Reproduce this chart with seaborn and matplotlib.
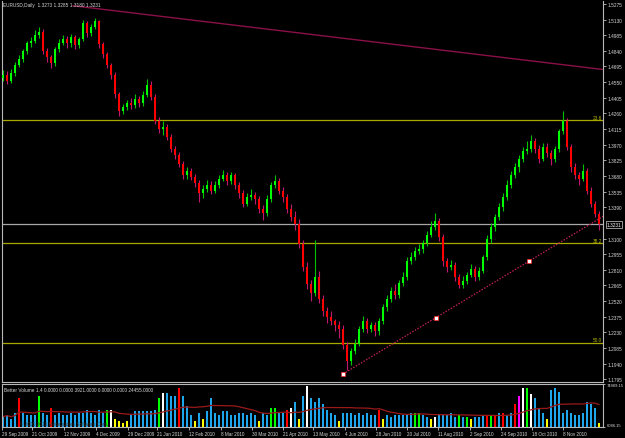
import numpy as np
import pandas as pd
import matplotlib
matplotlib.use("Agg")
import matplotlib.pyplot as plt
import matplotlib.transforms as mtransforms
import seaborn as sns

# ---------------- data (EURUSD daily) ----------------
first_open = 1.4590
closes = [
    1.4616, 1.4561, 1.4635, 1.4709, 1.4765, 1.4839, 1.4913, 1.4932, 1.4987, 1.5015,
    1.4839, 1.4783, 1.4728, 1.4858, 1.4913, 1.4950, 1.4913, 1.4969, 1.4895, 1.4950,
    1.5099, 1.5006, 1.5061, 1.5117, 1.4904, 1.4811, 1.4709, 1.4616, 1.4440, 1.4283,
    1.4320, 1.4357, 1.4338, 1.4394, 1.4357, 1.4431, 1.4524, 1.4413, 1.4190, 1.4116,
    1.4134, 1.4042, 1.3931, 1.3875, 1.3791, 1.3689, 1.3727, 1.3671, 1.3615, 1.3523,
    1.3560, 1.3597, 1.3541, 1.3597, 1.3652, 1.3689, 1.3634, 1.3689, 1.3597, 1.3523,
    1.3421, 1.3486, 1.3504, 1.3467, 1.3374, 1.3337, 1.3467, 1.3597, 1.3634, 1.3541,
    1.3486, 1.3374, 1.3300, 1.3235, 1.3050, 1.2837, 1.2679, 1.2596, 1.2744, 1.2540,
    1.2429, 1.2373, 1.2336, 1.2299, 1.2262, 1.2114, 1.1965, 1.2058, 1.2123, 1.2262,
    1.2336, 1.2262, 1.2299, 1.2243, 1.2336, 1.2466, 1.2540, 1.2614, 1.2577, 1.2688,
    1.2744, 1.2892, 1.2929, 1.2985, 1.3004, 1.3059, 1.3133, 1.3207, 1.3263, 1.3115,
    1.2892, 1.2837, 1.2855, 1.2744, 1.2670, 1.2707, 1.2762, 1.2818, 1.2744, 1.2800,
    1.2929, 1.3096, 1.3207, 1.3300, 1.3393, 1.3486, 1.3597, 1.3689, 1.3764, 1.3838,
    1.3912, 1.3931, 1.4005, 1.3931, 1.3838, 1.3949, 1.3893, 1.3838, 1.3931, 1.4097,
    1.4190, 1.3949, 1.3764, 1.3689, 1.3652, 1.3727, 1.3541, 1.3421, 1.3328, 1.3231,
]
highs = [
    1.4660, 1.4650, 1.4670, 1.4740, 1.4800, 1.4860, 1.4930, 1.4970, 1.5030, 1.5060,
    1.5040, 1.4870, 1.4800, 1.4880, 1.4950, 1.4990, 1.4980, 1.5000, 1.4990, 1.4970,
    1.5130, 1.5120, 1.5090, 1.5144, 1.5130, 1.4920, 1.4830, 1.4730, 1.4640, 1.4460,
    1.4350, 1.4380, 1.4400, 1.4440, 1.4420, 1.4470, 1.4580, 1.4560, 1.4440, 1.4230,
    1.4190, 1.4160, 1.4070, 1.3960, 1.3900, 1.3820, 1.3760, 1.3750, 1.3700, 1.3640,
    1.3600, 1.3640, 1.3630, 1.3630, 1.3690, 1.3740, 1.3720, 1.3720, 1.3710, 1.3620,
    1.3550, 1.3520, 1.3560, 1.3530, 1.3490, 1.3410, 1.3500, 1.3620, 1.3690, 1.3660,
    1.3580, 1.3510, 1.3420, 1.3360, 1.3280, 1.3090, 1.2880, 1.2720, 1.3090, 1.2800,
    1.2580, 1.2470, 1.2430, 1.2350, 1.2340, 1.2300, 1.2140, 1.2090, 1.2170, 1.2290,
    1.2380, 1.2360, 1.2330, 1.2330, 1.2360, 1.2490, 1.2580, 1.2650, 1.2680, 1.2720,
    1.2790, 1.2930, 1.2980, 1.3020, 1.3050, 1.3090, 1.3170, 1.3260, 1.3333, 1.3290,
    1.3140, 1.2920, 1.2900, 1.2880, 1.2770, 1.2750, 1.2790, 1.2860, 1.2850, 1.2840,
    1.2950, 1.3130, 1.3240, 1.3330, 1.3430, 1.3520, 1.3640, 1.3730, 1.3800, 1.3870,
    1.3950, 1.4000, 1.4060, 1.4030, 1.3970, 1.3990, 1.3990, 1.3920, 1.3960, 1.4120,
    1.4282, 1.4220, 1.3980, 1.3800, 1.3720, 1.3790, 1.3750, 1.3580, 1.3450, 1.3360,
]
lows = [
    1.4560, 1.4530, 1.4540, 1.4610, 1.4690, 1.4740, 1.4810, 1.4880, 1.4910, 1.4960,
    1.4810, 1.4740, 1.4680, 1.4700, 1.4830, 1.4890, 1.4870, 1.4880, 1.4860, 1.4870,
    1.4930, 1.4970, 1.4980, 1.5040, 1.4870, 1.4770, 1.4680, 1.4580, 1.4400, 1.4240,
    1.4250, 1.4290, 1.4300, 1.4310, 1.4320, 1.4330, 1.4410, 1.4380, 1.4160, 1.4080,
    1.4060, 1.4010, 1.3900, 1.3840, 1.3760, 1.3650, 1.3650, 1.3640, 1.3580, 1.3440,
    1.3480, 1.3530, 1.3510, 1.3520, 1.3570, 1.3630, 1.3600, 1.3610, 1.3560, 1.3480,
    1.3390, 1.3400, 1.3460, 1.3420, 1.3340, 1.3270, 1.3310, 1.3440, 1.3570, 1.3510,
    1.3440, 1.3340, 1.3260, 1.3180, 1.3010, 1.2800, 1.2630, 1.2520, 1.2570, 1.2500,
    1.2380, 1.2320, 1.2300, 1.2240, 1.2180, 1.2080, 1.1880, 1.1930, 1.2030, 1.2100,
    1.2230, 1.2220, 1.2230, 1.2200, 1.2210, 1.2310, 1.2430, 1.2510, 1.2540, 1.2550,
    1.2660, 1.2720, 1.2860, 1.2900, 1.2960, 1.2970, 1.3030, 1.3110, 1.3180, 1.3080,
    1.2850, 1.2790, 1.2810, 1.2710, 1.2640, 1.2640, 1.2680, 1.2740, 1.2710, 1.2720,
    1.2780, 1.2900, 1.3060, 1.3170, 1.3270, 1.3360, 1.3460, 1.3570, 1.3660, 1.3720,
    1.3810, 1.3880, 1.3900, 1.3890, 1.3800, 1.3820, 1.3860, 1.3780, 1.3810, 1.3900,
    1.4070, 1.3920, 1.3720, 1.3650, 1.3600, 1.3630, 1.3510, 1.3390, 1.3300, 1.3180,
]
volumes = [
    22470, 25740, 19190, 29020, 51950, 29020, 25740, 25740, 25740, 55230,
    29020, 25740, 35570, 25740, 29020, 25740, 25740, 29020, 25740, 29020,
    29020, 32300, 29020, 25740, 32300, 29020, 32300, 32300, 19190, 15910,
    12640, 15910, 25740, 30660, 30660, 30660, 30660, 30660, 32300, 51950,
    60140, 60140, 55230, 55230, 68330, 55230, 38850, 25740, 15910, 29020,
    19190, 30660, 51950, 29020, 25740, 30660, 30660, 25740, 25740, 29020,
    29020, 25740, 29020, 25740, 15910, 29020, 25740, 35570, 35570, 29020,
    29020, 32300, 35570, 45400, 19190, 55230, 71610, 51950, 45400, 51950,
    42120, 32300, 29020, 25740, 15910, 29020, 29020, 29020, 25740, 29020,
    25740, 29020, 25740, 25740, 32300, 19190, 25740, 22470, 25740, 25740,
    25740, 25740, 29020, 29020, 29020, 25740, 22470, 19190, 22470, 25740,
    25740, 25740, 29020, 22470, 25740, 22470, 22470, 19190, 22470, 22470,
    25740, 25740, 25740, 25740, 29020, 29020, 25740, 29020, 42120, 55230,
    68330, 68330, 58500, 51950, 35570, 29020, 19190, 65050, 68330, 61780,
    29020, 32300, 29020, 25740, 25740, 29020, 45400, 42120, 35570, 12640,
]
vol_kind = list(
    "bbbbrbbbbg" "bbrbbbbbbb" "bbbbbbgwyy" "yybbbbbbbg" "wbbbrbbbyb"
    "ybbbbbbbbb" "bbbbybbggb" "brwbybwbbb" "bbbbybbbbb" "bbbbrybbbb"
    "bbbggbbywb" "bbbbgbgybb" "brgrbrbbrm" "wgwbbbybbb" "bbbbbbbbby"
)
vol_colors = {"b": "#1EA6EC", "r": "#FF0000", "w": "#FFFFFF",
              "g": "#00FF00", "y": "#FFFF00", "m": "#FF00FF"}

date_labels = ["29 Sep 2009", "21 Oct 2009", "12 Nov 2009", "4 Dec 2009",
               "29 Dec 2009", "21 Jan 2010", "12 Feb 2010", "8 Mar 2010",
               "30 Mar 2010", "21 Apr 2010", "13 May 2010", "4 Jun 2010",
               "28 Jun 2010", "20 Jul 2010", "11 Aug 2010", "2 Sep 2010",
               "24 Sep 2010", "18 Oct 2010", "8 Nov 2010"]
date_bars = [-0.25, 7.25, 15.25, 23.25, 31.25, 38.5, 46.5, 54.5, 62.25, 70,
             77.5, 85.5, 93.25, 101, 108.75, 116.75, 124.5, 132.25, 140]

price_ticks = [1.5275, 1.5130, 1.4985, 1.4840, 1.4695, 1.4550, 1.4405, 1.4260,
               1.4115, 1.3970, 1.3825, 1.3680, 1.3535, 1.3390, 1.3100, 1.2955,
               1.2810, 1.2665, 1.2520, 1.2375, 1.2230, 1.2085, 1.1940, 1.1795]
fib_levels = [1.4195, 1.3055, 1.2133]
fib_names = ["23.6", "38.2", "50.0"]
last_price = 1.3231
vol_axis = [6086.15, 74889.15]

trend_bars = [85, 131.5]
trend_prices = [1.1845, 1.2890]
upper_bars = [17.5, 150]
upper_prices = [1.5258, 1.4667]

title = "EURUSD,Daily  1.3273 1.3285 1.3180 1.3231"
ind_title = "Better Volume 1.4 0.0000 0.0000 3921.0000 0.0000 0.0000 24455.0000"

# ---------------- style ----------------
sns.set_style("dark", rc={"axes.facecolor": "black", "figure.facecolor": "black"})
plt.rcParams["font.family"] = ["Liberation Sans", "DejaVu Sans"]
TXT = "#D8D8D8"
FS = 3.4

W, H = 625, 439
fig = plt.figure(figsize=(W / 100, H / 100), dpi=100)
fig.patch.set_facecolor("black")

axp = fig.add_axes([2 / W, 1 - 382.5 / H, 601 / W, 380.5 / H])
axv = fig.add_axes([2 / W, 1 - 428 / H, 601 / W, 43.5 / H])

n = len(closes)
idx = np.arange(n)
opens = [first_open] + closes[:-1]
o = np.array(opens)
c = np.array(closes)
hi = np.array(highs)
lo = np.array(lows)
up = c >= o

blend_p = mtransforms.blended_transform_factory(axp.transAxes, axp.transData)

# reference lines (behind candles)
for lvl, name in zip(fib_levels, fib_names):
    axp.axhline(lvl, color="#A8A800", lw=0.9, zorder=1)
    axp.text(0.998, lvl + 0.0007, name, transform=blend_p,
             ha="right", va="bottom", fontsize=FS, color="#B8B800")
axp.axhline(last_price, color="#A8A8A8", lw=0.9, zorder=1)

# candles
axp.vlines(idx, lo, hi, colors=np.where(up, "#00C400", "#C0186E"), lw=0.8, zorder=2)
body_lo = np.minimum(o, c)
body_h = np.maximum(np.abs(c - o), 0.0005)
axp.bar(idx, body_h, bottom=body_lo, width=0.62,
        color=np.where(up, "#00FF00", "#FF0000"), linewidth=0, zorder=3)

# trend lines
slope = (trend_prices[1] - trend_prices[0]) / (trend_bars[1] - trend_bars[0])
x_end = n + 0.5
axp.plot([trend_bars[0], x_end], [trend_prices[0], trend_prices[0] + slope * (x_end - trend_bars[0])],
         color="#C0205A", lw=0.9, ls=(0, (1.2, 1.2)), zorder=4)
mid_bar = (trend_bars[0] + trend_bars[1]) / 2
axp.plot([trend_bars[0], mid_bar, trend_bars[1]],
         [trend_prices[0], trend_prices[0] + slope * (mid_bar - trend_bars[0]), trend_prices[1]],
         ls="none", marker="s", ms=2.2, mfc="white", mec="#FF2020", mew=0.5, zorder=5)
axp.plot(upper_bars, upper_prices, color="#8A1048", lw=1.0, zorder=4)

axp.set_xlim(-0.25, 150.0)
axp.set_ylim(1.1775, 1.5302)
axp.yaxis.tick_right()
axp.set_yticks(price_ticks)
axp.set_yticklabels([f"{t:.4f}" for t in price_ticks])
axp.tick_params(axis="y", colors="#C0C0C0", labelcolor=TXT, labelsize=FS, length=2, width=0.6, pad=1.5, right=True)
axp.set_xticks([])
axp.grid(False)
for side, sp in axp.spines.items():
    sp.set_color("#B8B8B8")
    sp.set_linewidth(0.8)
axp.spines["top"].set_visible(False)

axp.text(1.006, last_price, f"{last_price:.4f}", transform=blend_p,
         ha="left", va="center", fontsize=FS, color="white", clip_on=False,
         bbox=dict(boxstyle="square,pad=0.2", fc="black", ec="#D0D0D0", lw=0.5))
fig.text(3 / W, 1 - 5.5 / H, title, ha="left", va="center", fontsize=FS, color=TXT)

# ---------------- volume panel ----------------
vdf = pd.DataFrame({"bar": idx, "volume": volumes, "kind": vol_kind})
sns.barplot(data=vdf, x="bar", y="volume", hue="kind", palette=vol_colors,
            dodge=False, native_scale=True, width=0.55, saturation=1,
            errorbar=None, legend=False, linewidth=0, ax=axv)
ma = vdf["volume"].rolling(20, min_periods=1).mean()
sns.lineplot(x=idx, y=ma.values, color="#9A1A1A", lw=0.9, ax=axv)
axv.set_xlim(-0.25, 150.0)
axv.set_ylim(vol_axis[0], vol_axis[1])
axv.set_xlabel("")
axv.set_ylabel("")
axv.grid(False)
axv.yaxis.tick_right()
axv.set_yticks(vol_axis)
axv.set_yticklabels([f"{v:.2f}" for v in vol_axis])
axv.tick_params(axis="y", colors="#C0C0C0", labelcolor=TXT, labelsize=3.0, length=1.5, width=0.6, pad=1.0)
vlabels = axv.get_yticklabels()
vlabels[0].set_va("bottom")
vlabels[1].set_va("top")
axv.set_xticks(date_bars)
axv.set_xticklabels(date_labels)
axv.tick_params(axis="x", colors="#C0C0C0", labelcolor=TXT, labelsize=3.3, length=2, width=0.6, pad=1.2, bottom=True)
for lab in axv.get_xticklabels():
    lab.set_ha("left")
for side, sp in axv.spines.items():
    sp.set_color("#B8B8B8")
    sp.set_linewidth(0.8)
axv.text(0.003, 0.93, ind_title, transform=axv.transAxes, ha="left", va="top", fontsize=FS, color=TXT)
axv.text(0.03, 0.03, "\u00a9 2001-2010 MetaQuotes Software Corp.", transform=axv.transAxes,
         ha="left", va="bottom", fontsize=FS, color="#3A3A3A")

fig.savefig("out.png", dpi=100, facecolor="black")
